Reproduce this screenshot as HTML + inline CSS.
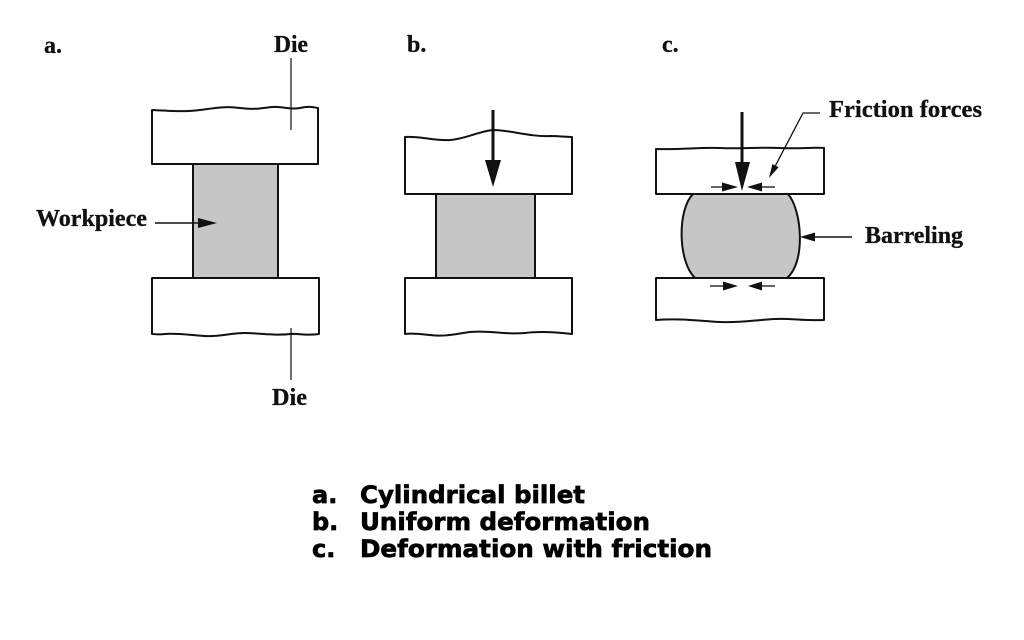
<!DOCTYPE html>
<html>
<head>
<meta charset="utf-8">
<style>
  html,body{margin:0;padding:0;background:#fff;}
  body{width:1024px;height:640px;overflow:hidden;}
  svg{display:block;}
  .lbl{font-family:"Liberation Serif",serif;font-weight:bold;font-size:24px;fill:#111;stroke:#111;stroke-width:0.3;}
  .cap{font-family:"DejaVu Sans","Liberation Sans",sans-serif;font-weight:bold;font-size:24px;fill:#000;stroke:#000;stroke-width:0.7;}
</style>
</head>
<body>
<svg width="1024" height="640" viewBox="0 0 1024 640" xmlns="http://www.w3.org/2000/svg">
  <rect width="1024" height="640" fill="#fff"/>
  <g stroke="#111" stroke-width="2" fill="none" stroke-linejoin="round">
    <!-- Panel a -->
    <path d="M152,164 L152,110 C170,111 185,112 200,110 C215,108 225,106 240,108 C255,110 262,108 272,107 C282,106 290,110 300,108 C308,106 313,107 318,108 L318,164 Z" fill="#fff"/>
    <rect x="193" y="164" width="85" height="114" fill="#c6c6c6"/>
    <path d="M152,278 L319,278 L319,334 C305,336 298,333 290,334 C275,336 260,333 245,333 C230,333 220,337 205,336 C190,335 175,333 165,334 C158,335 155,334 152,334 Z" fill="#fff"/>
    <line x1="291" y1="58" x2="291" y2="130" stroke-width="1.2"/>
    <line x1="291" y1="328" x2="291" y2="380" stroke-width="1.2"/>
    <line x1="155" y1="223" x2="200" y2="223" stroke-width="1.5"/>

    <!-- Panel b -->
    <path d="M405,194 L405,137 C420,136 435,141 450,140 C465,139 480,131 493,130 C510,130 530,137 550,136 C560,136 566,137 572,137 L572,194 Z" fill="#fff"/>
    <rect x="436" y="194" width="99" height="84" fill="#c6c6c6"/>
    <path d="M405,278 L572,278 L572,334 C555,332 540,331 525,333 C505,335 490,330 470,332 C455,334 445,337 430,335 C420,334 412,333 405,334 Z" fill="#fff"/>
    <line x1="493" y1="110" x2="493" y2="162" stroke-width="3"/>

    <!-- Panel c -->
    <path d="M656,194 L656,149 C680,150 700,147 720,148 C740,149 760,147 780,148 C800,149 815,147 824,148 L824,194 Z" fill="#fff"/>
    <path d="M656,278 L824,278 L824,320 C805,321 790,318 775,319 C755,320 740,323 720,322 C700,321 680,318 656,320 Z" fill="#fff"/>
    <path d="M693,194 L788,194 C802,210 806,262 787,278 L695,278 C678,262 677,210 693,194 Z" fill="#c6c6c6"/>
    <line x1="742" y1="112" x2="742" y2="164" stroke-width="3"/>
    <line x1="711" y1="187" x2="725" y2="187" stroke-width="1.3"/>
    <line x1="760" y1="187" x2="775" y2="187" stroke-width="1.3"/>
    <line x1="710" y1="286" x2="726" y2="286" stroke-width="1.3"/>
    <line x1="760" y1="286" x2="775" y2="286" stroke-width="1.3"/>
    <polyline points="820,113 803,113 775.5,165.6" stroke-width="1.3"/>
    <line x1="852" y1="237" x2="812" y2="237" stroke-width="1.5"/>
  </g>
  <g fill="#111" stroke="none">
    <polygon points="198,218 198,228 217,223"/>
    <polygon points="485,160 501,160 493,187"/>
    <polygon points="735,162 750,162 742,191"/>
    <polygon points="722,182.5 722,191.5 738,187"/>
    <polygon points="747,187 762,182.5 762,191.5"/>
    <polygon points="723,281.5 723,290.5 738,286"/>
    <polygon points="748,286 762,281.5 762,290.5"/>
    <polygon points="778.6,167.2 772.4,164 769,178"/>
    <polygon points="800,237 815,232.5 815,241.5"/>
  </g>

  <!-- Serif labels -->
  <text class="lbl" x="44" y="53">a.</text>
  <text class="lbl" x="407" y="52">b.</text>
  <text class="lbl" x="662" y="52">c.</text>
  <text class="lbl" x="274" y="52" textLength="34" lengthAdjust="spacingAndGlyphs">Die</text>
  <text class="lbl" x="272" y="405" textLength="35" lengthAdjust="spacingAndGlyphs">Die</text>
  <text class="lbl" x="36" y="226" textLength="111" lengthAdjust="spacingAndGlyphs">Workpiece</text>
  <text class="lbl" x="829" y="117" textLength="153" lengthAdjust="spacingAndGlyphs">Friction forces</text>
  <text class="lbl" x="865" y="243" textLength="98" lengthAdjust="spacingAndGlyphs">Barreling</text>

  <!-- Caption -->
  <text class="cap" x="312" y="503">a.</text>
  <text class="cap" x="360" y="503" textLength="225" lengthAdjust="spacingAndGlyphs">Cylindrical billet</text>
  <text class="cap" x="312" y="530">b.</text>
  <text class="cap" x="360" y="530" textLength="290" lengthAdjust="spacingAndGlyphs">Uniform deformation</text>
  <text class="cap" x="312" y="557">c.</text>
  <text class="cap" x="360" y="557" textLength="352" lengthAdjust="spacingAndGlyphs">Deformation with friction</text>
</svg>
</body>
</html>
